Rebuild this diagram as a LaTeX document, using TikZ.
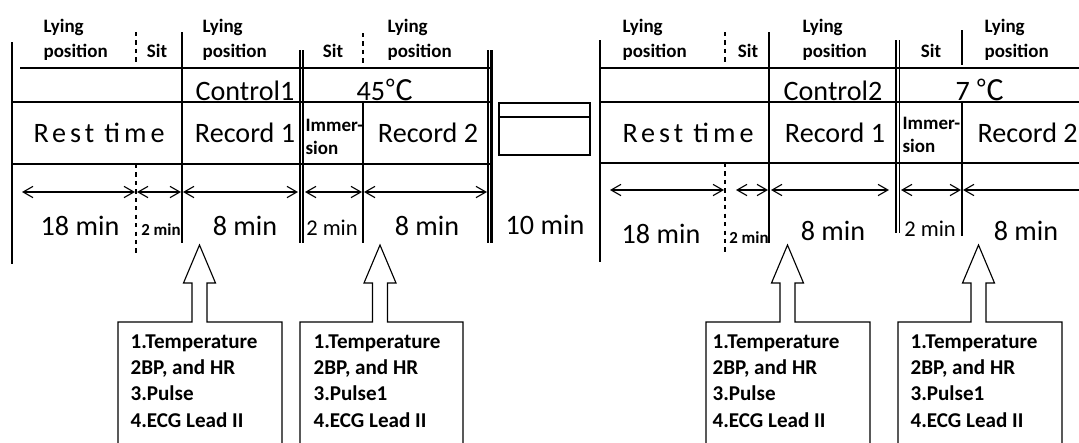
\documentclass[tikz,border=0pt]{standalone}
\usepackage{fontspec}
\setmainfont{Carlito}
\newfontfamily\spacedfont{Carlito}[LetterSpace=14]
\newfontfamily\cjkfont{Noto Sans CJK SC}
\usetikzlibrary{arrows.meta}

\begin{document}
\begin{tikzpicture}[x=0.025cm, y=-0.025cm, line width=0.8pt,
  hdr/.style={font=\bfseries\fontsize{13.5}{17.7}\selectfont, align=left, anchor=base west, inner sep=0pt},
  sit/.style={font=\bfseries\fontsize{13.5}{16}\selectfont, anchor=base, inner sep=0pt},
  big/.style={font=\fontsize{20}{24}\selectfont, anchor=base, inner sep=0pt},
  rest/.style={font=\spacedfont\fontsize{20}{24}\selectfont, anchor=base, inner sep=0pt},
  mid/.style={font=\fontsize{16}{19}\selectfont, anchor=base, inner sep=0pt},
  tiny/.style={font=\bfseries\fontsize{12}{14}\selectfont, anchor=base, inner sep=0pt},
  imm/.style={font=\bfseries\fontsize{13.5}{16.3}\selectfont, align=left, anchor=base west, inner sep=0pt},
  list/.style={font=\bfseries\fontsize{15}{18.6}\selectfont, align=left, anchor=base west, inner sep=0pt},
  dim/.style={{Straight Barb[length=7pt,width=8pt]}-{Straight Barb[length=7pt,width=8pt]}}]
\useasboundingbox (0,0) rectangle (1079,442);
\clip (0,0) rectangle (1079,442);

% first session
\draw (12,42) -- (12,264);
\draw (20,68) -- (490,68);
\draw (12,102) -- (490,102);
\draw (12,164) -- (490,164);
\draw[dashed] (136,32) -- (136,62);
\draw[dashed] (136,164) -- (136,254);
\draw (182,32) -- (182,243);
\draw (300,50) -- (300,243);
\draw (303,50) -- (303,243);
\draw[dashed] (363,33) -- (363,65);
\draw (363,102) -- (363,243);
\draw (488,50) -- (488,243);
\draw[line width=1.5pt] (491.5,50) -- (491.5,243);

% second session
\draw (600,40) -- (600,262);
\draw (600,68) -- (1079,68);
\draw (600,102) -- (1079,102);
\draw (600,163) -- (1079,163);
\draw[dashed] (725,32) -- (725,62);
\draw[dashed] (725,163) -- (725,253);
\draw (769,32) -- (769,243);
\draw[line width=1.5pt] (896,40) -- (896,233);
\draw (899.5,40) -- (899.5,233);
\draw (962,30) -- (962,65);
\draw (962,102) -- (962,236);

% break between sessions
\draw (499,103) rectangle (590,155);
\draw[line width=1.2pt] (499,117) -- (590,117);

% headers (base = last line)
\node[hdr] (lie1) at (43,57) {Lying\\position};
\node[sit] (sit1) at (157,57) {Sit};
\node[hdr] (lie2) at (202,57) {Lying\\position};
\node[sit] (sit2) at (333,57) {Sit};
\node[hdr] (lie3) at (387,57) {Lying\\position};
\node[hdr] (lie4) at (622,57) {Lying\\position};
\node[sit] (sit3) at (748,57) {Sit};
\node[hdr] (lie5) at (802,57) {Lying\\position};
\node[sit] (sit4) at (931,57) {Sit};
\node[hdr] (lie6) at (984,57) {Lying\\position};

\node[big] (ctl1) at (245,100) {Control1};
\node[big] (temp1) at (385,100) {45{\cjkfont ℃}};
\node[big] (ctl2) at (833,100) {Control2};
\node[big] (temp2) at (980,100) {7 {\cjkfont ℃}};

\node[rest] (rest1) at (99,142) {Rest time};
\node[big] (rec1) at (245,142) {Record 1};
\node[imm] (imm1) at (305,154) {Immer-\\sion};
\node[big] (rec2) at (428,142) {Record 2};
\node[rest] (rest2) at (688,142) {Rest time};
\node[big] (rec3) at (835,142) {Record 1};
\node[imm] (imm2) at (902,152) {Immer-\\sion};
\node[big, anchor=base west] (rec4) at (977,142) {Record 2};

% durations
\foreach \n/\x in {0/22, 1/135, 2/137, 3/181, 4/183, 5/298, 6/305, 7/362, 8/364, 9/487}
  \coordinate (L\n) at (\x,192);
\foreach \n/\x in {0/610, 1/724, 2/736, 3/768, 4/771, 5/889, 6/901, 7/961, 8/963, 9/1095}
  \coordinate (R\n) at (\x,190);
\foreach \a/\b in {0/1, 2/3, 4/5, 6/7, 8/9} {
  \draw[dim] (L\a) -- (L\b);
  \draw[dim] (R\a) -- (R\b);
}

\node[big] (t18a) at (80,235) {18 min};
\node[tiny] (t2a) at (161,235) {2 min};
\node[big] (t8a) at (245,235) {8 min};
\node[mid] (t2b) at (332,235) {2 min};
\node[big] (t8b) at (427,235) {8 min};
\node[big] (t10) at (545,234) {10 min};
\node[big] (t18b) at (661,243) {18 min};
\node[tiny] (t2c) at (749,243) {2 min};
\node[big] (t8c) at (833,240) {8 min};
\node[mid] (t2d) at (930,236) {2 min};
\node[big] (t8d) at (1026,240) {8 min};

% measurement boxes with pointers
\foreach \bl/\br/\ax in {118/282/199.5, 300/463/380, 706/870/787.5, 898/1062/978.5}
  \draw (\bl,450) -- (\bl,322) -- (\ax-7.5,322) -- (\ax-7.5,283) -- (\ax-16,283)
    -- (\ax,245) -- (\ax+16,283) -- (\ax+7.5,283) -- (\ax+7.5,322) -- (\br,322) -- (\br,450);

\node[list] (m1) at (130,427) {1.Temperature\\2BP, and HR\\3.Pulse\\4.ECG Lead II};
\node[list] (m2) at (313,427) {1.Temperature\\2BP, and HR\\3.Pulse1\\4.ECG Lead II};
\node[list] (m3) at (712,427) {1.Temperature\\2BP, and HR\\3.Pulse\\4.ECG Lead II};
\node[list] (m4) at (910,427) {1.Temperature\\2BP, and HR\\3.Pulse1\\4.ECG Lead II};
\end{tikzpicture}
\end{document}
